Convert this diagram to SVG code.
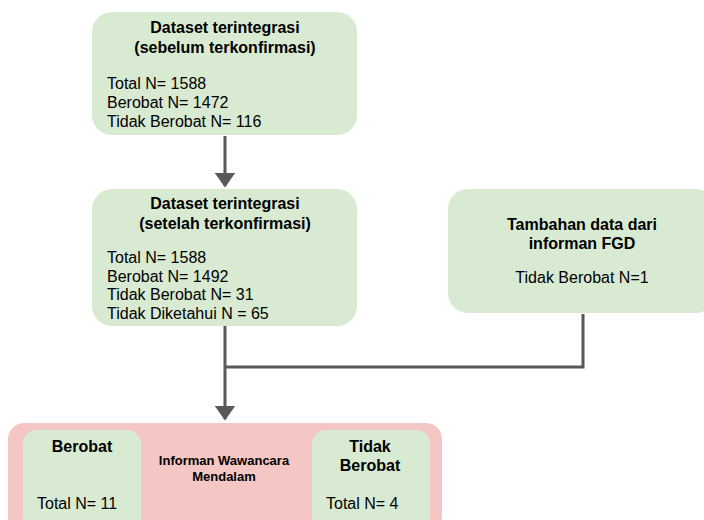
<svg xmlns="http://www.w3.org/2000/svg" width="704" height="520" viewBox="0 0 704 520">
<defs>
<style>
.g{fill:#d9ead3;}
.p{fill:#f4c7c5;}
text{font-family:"Liberation Sans",Arial,sans-serif;fill:#000;}
.t{font-size:16px;font-weight:bold;text-anchor:middle;}
.b{font-size:16px;}
.s{font-size:13px;font-weight:bold;text-anchor:middle;}
.c{stroke:#595959;stroke-width:3;fill:none;}
</style>
<marker id="ah" markerWidth="5" markerHeight="7" refX="4.5" refY="3.5" orient="auto" markerUnits="strokeWidth" viewBox="0 0 5 7">
<path d="M0,0 L5,3.5 L0,7 Z" fill="#595959"/>
</marker>
</defs>
<rect width="704" height="520" fill="#fff"/>
<g id="connectors">
<line class="c" x1="225" y1="136" x2="225" y2="186" marker-end="url(#ah)"/>
<polyline class="c" points="583,314 583,367 225,367"/>
<line class="c" x1="225" y1="326" x2="225" y2="419" marker-end="url(#ah)"/>
</g>
<g id="n1">
<rect class="g" x="92" y="12" width="265" height="123" rx="20"/>
<text class="t" x="225" y="33">Dataset terintegrasi</text>
<text class="t" x="225" y="53">(sebelum terkonfirmasi)</text>
<text class="b" x="107" y="89">Total N= 1588</text>
<text class="b" x="107" y="108">Berobat N= 1472</text>
<text class="b" x="107" y="127">Tidak Berobat N= 116</text>
</g>
<g id="n2">
<rect class="g" x="92" y="189" width="265" height="137" rx="20"/>
<text class="t" x="225" y="209">Dataset terintegrasi</text>
<text class="t" x="225" y="229">(setelah terkonfirmasi)</text>
<text class="b" x="107" y="263">Total N= 1588</text>
<text class="b" x="107" y="282">Berobat N= 1492</text>
<text class="b" x="107" y="300">Tidak Berobat N= 31</text>
<text class="b" x="107" y="319">Tidak Diketahui N = 65</text>
</g>
<g id="n3">
<rect class="g" x="448" y="189" width="268" height="124" rx="20"/>
<text class="t" x="582" y="230">Tambahan data dari</text>
<text class="t" x="582" y="249">informan FGD</text>
<text class="b" x="582" y="283" text-anchor="middle">Tidak Berobat N=1</text>
</g>
<g id="n4">
<rect class="p" x="8" y="423" width="434" height="110" rx="16"/>
<text class="s" x="224" y="465">Informan Wawancara</text>
<text class="s" x="224" y="481">Mendalam</text>
</g>
<g id="n5">
<rect class="g" x="23" y="430" width="118" height="100" rx="14"/>
<text class="t" x="82" y="452">Berobat</text>
<text class="b" x="37" y="509">Total N= 11</text>
</g>
<g id="n6">
<rect class="g" x="312" y="430" width="118" height="100" rx="14"/>
<text class="t" x="370" y="452">Tidak</text>
<text class="t" x="370" y="471">Berobat</text>
<text class="b" x="326" y="509">Total N= 4</text>
</g>
</svg>
